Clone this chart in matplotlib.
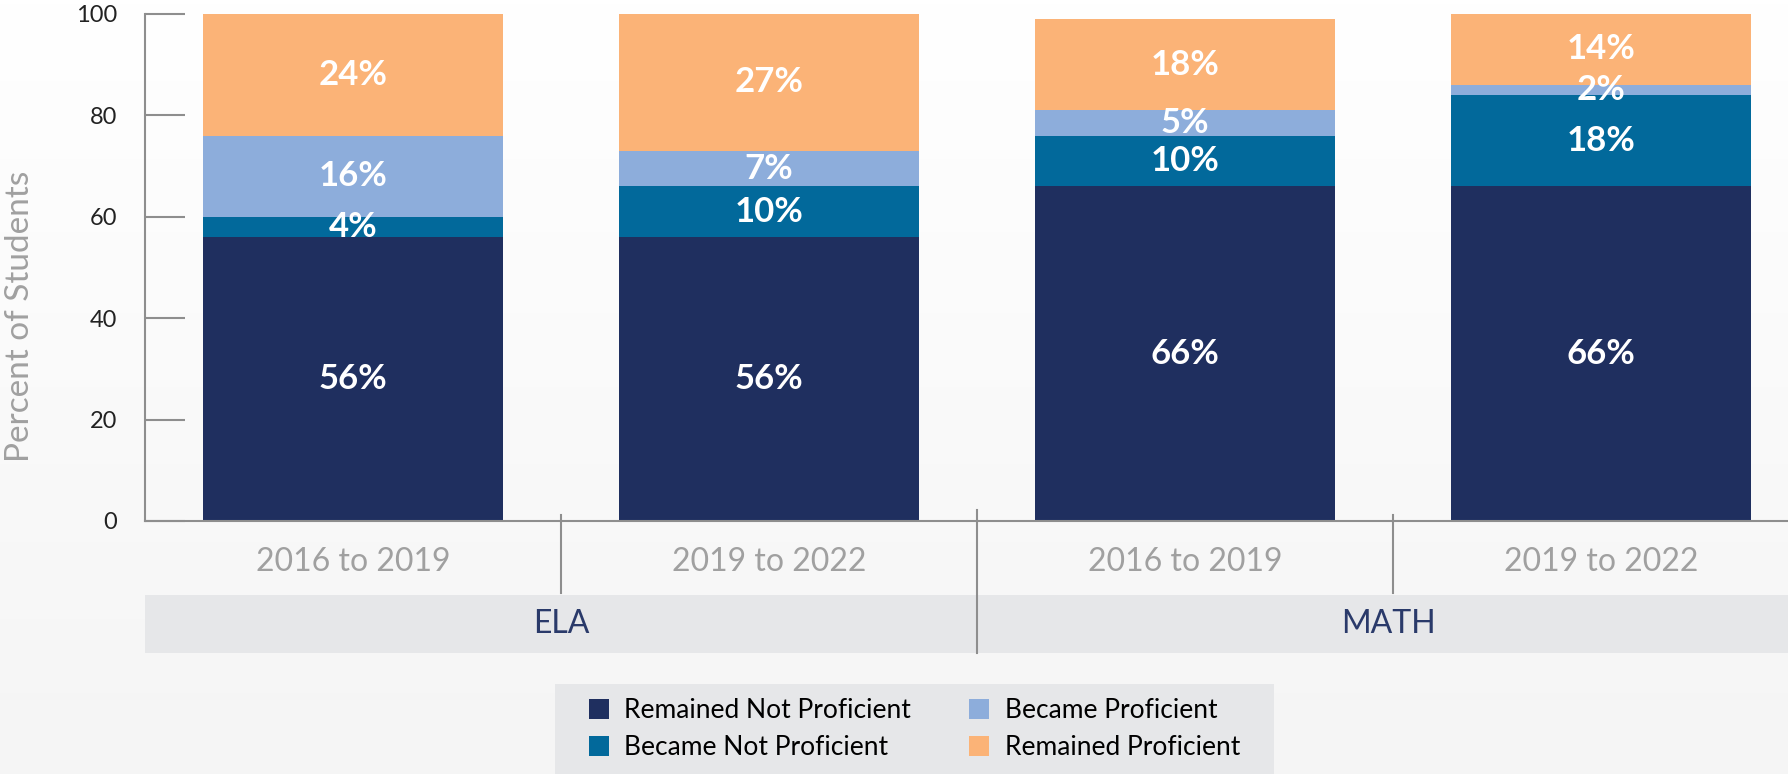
import numpy as np
import matplotlib
matplotlib.use('Agg')
import matplotlib.pyplot as plt
from matplotlib.patches import Rectangle
from matplotlib.colors import LinearSegmentedColormap

plt.rcParams['font.family'] = ['Lato', 'DejaVu Sans']

periods = ['2016 to 2019', '2019 to 2022', '2016 to 2019', '2019 to 2022']
subjects = ['ELA', 'MATH']
remained_not = [56, 56, 66, 66]
became_not = [4, 10, 10, 18]
became_prof = [16, 7, 5, 2]
remained_prof = [24, 27, 18, 14]
names = ['Remained Not Proficient', 'Became Not Proficient', 'Became Proficient', 'Remained Proficient']
colors = ['#1f2f5f', '#02699b', '#8daddb', '#fbb377']
grey = '#8e8e8e'

fig = plt.figure(figsize=(17.88, 7.74), dpi=100)

# soft white-to-grey background
bg = fig.add_axes([0, 0, 1, 1], zorder=-10)
cmap = LinearSegmentedColormap.from_list('bg', ['#ffffff', '#f5f5f5'])
bg.imshow(np.linspace(0, 1, 200).reshape(-1, 1), cmap=cmap, aspect='auto',
          extent=[0, 1, 0, 1], origin='upper')
bg.axis('off')

ax = fig.add_axes([0.0811, 0.327, 0.919, 0.655])
ax.patch.set_alpha(0)

x = np.arange(len(periods))
bottom = np.zeros(len(periods))
handles = []
for vals, name, c in zip([remained_not, became_not, became_prof, remained_prof], names, colors):
    b = ax.bar(x, vals, 0.72, bottom=bottom, color=c, label=name, zorder=2)
    handles.append(b)
    for xi, v, bt in zip(x, vals, bottom):
        ax.text(xi, bt + v / 2, f'{v}%', ha='center', va='center', color='white',
                fontsize=25, fontweight='bold', zorder=3)
    bottom += vals

ax.set_xlim(-0.5, 3.45)
ax.set_ylim(0, 100)
ax.set_yticks([0, 20, 40, 60, 80, 100])
ax.tick_params(axis='y', direction='in', length=29, width=1.5, color=grey,
               pad=20, labelsize=17, labelcolor='#222222')
ax.set_xticks([])
for s in ['top', 'right']:
    ax.spines[s].set_visible(False)
for s in ['left', 'bottom']:
    ax.spines[s].set_color(grey)
    ax.spines[s].set_linewidth(1.5)

ax.set_ylabel('Percent of Students', fontsize=24, color='#a0a0a0')
ax.yaxis.set_label_coords(-0.067, 0.404)

tr = ax.get_xaxis_transform()
for xi, p in zip(x, periods):
    ax.text(xi, -0.081, p, transform=tr, ha='center', va='center',
            fontsize=23, color='#a0a0a0')

# subject band
ax.add_patch(Rectangle((-0.5, -0.261), 3.95, 0.115, transform=tr, clip_on=False,
                       facecolor='#e6e7e9', edgecolor='none', zorder=0))
ax.text(0.5, -0.203, subjects[0], transform=tr, ha='center', va='center',
        fontsize=23, color='#2a3a6a')
ax.text(2.49, -0.203, subjects[1], transform=tr, ha='center', va='center',
        fontsize=23, color='#2a3a6a')

for sx in [0.5, 2.5]:
    ax.plot([sx, sx], [0.011, -0.142], transform=tr, clip_on=False, color=grey, lw=1.5, zorder=1)
ax.plot([1.5, 1.5], [0.022, -0.261], transform=tr, clip_on=False, color=grey, lw=1.5, zorder=1)

# legend box
fig.patches.append(Rectangle((0.3104, 0), 0.4021, 0.116, transform=fig.transFigure,
                             facecolor='#e6e7e9', edgecolor='none', zorder=0))
fig.legend(handles=handles, loc='center', bbox_to_anchor=(0.5115, 0.058), ncol=2,
           frameon=False, fontsize=19, handlelength=0.75, handleheight=0.75,
           handletextpad=0.6, columnspacing=2.2, labelspacing=0.45)

fig.savefig('out.png', dpi=100)
